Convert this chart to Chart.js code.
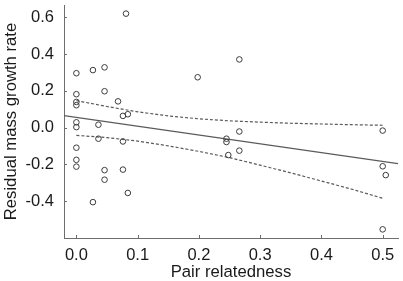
<!DOCTYPE html>
<html>
<head>
<meta charset="utf-8">
<script src="https://cdn.jsdelivr.net/npm/chart.js@4"></script>
<style>
  html, body { margin: 0; padding: 0; background: #fff; }
  #wrap { width: 403px; height: 281px; }
</style>
</head>
<body>
<div id="wrap"><canvas id="chart" width="403" height="281"></canvas></div>
<script>
// pair relatedness (x) vs residual mass growth rate (y)
const relatedness = [0.081, 0, 0.027, 0.046, 0, 0.046, 0, 0, 0.068, 0.076, 0.084, 0, 0, 0.036,
  0.036, 0.076, 0, 0, 0, 0.046, 0.076, 0.046, 0.084, 0.027,
  0.266, 0.198, 0.266, 0.245, 0.245, 0.248, 0.266, 0.5, 0.5, 0.505, 0.5];
const growthRate = [0.620, 0.296, 0.313, 0.328, 0.182, 0.198, 0.140, 0.122, 0.143, 0.064, 0.073, 0.029, 0.003, 0.016,
  -0.060, -0.075, -0.109, -0.175, -0.212, -0.231, -0.228, -0.283, -0.355, -0.405,
  0.371, 0.274, -0.021, -0.060, -0.078, -0.149, -0.125, -0.016, -0.210, -0.258, -0.553];

// fitted line, read at the plot edges
const fitX = [-0.0202, 0.525];
const fitY = [0.065, -0.196];

// confidence band, read along x
const bandX = [0, 0.05, 0.1, 0.15, 0.2, 0.25, 0.3, 0.35, 0.4, 0.45, 0.5];
const bandUpper = [0.147, 0.115, 0.086, 0.064, 0.048, 0.037, 0.030, 0.024, 0.020, 0.016, 0.013];
const bandLower = [-0.042, -0.054, -0.073, -0.099, -0.129, -0.163, -0.204, -0.246, -0.290, -0.335, -0.384];

const xTicks = [0, 0.1, 0.2, 0.3, 0.4, 0.5];
const yTicks = [-0.4, -0.2, 0, 0.2, 0.4, 0.6];

const FONT = "'Liberation Sans', Arial, sans-serif";
const pts = (xs, ys) => xs.map((x, i) => ({ x, y: ys[i] }));

// R style inward tick marks
const innerTicks = {
  id: "innerTicks",
  afterDraw(chart) {
    const { ctx, chartArea: a, scales: { x, y } } = chart;
    ctx.save();
    ctx.strokeStyle = "#6e6e6e";
    ctx.lineWidth = 1;
    ctx.beginPath();
    xTicks.forEach(v => {
      const px = Math.round(x.getPixelForValue(v)) + 0.5;
      ctx.moveTo(px, a.bottom); ctx.lineTo(px, a.bottom - 3);
    });
    yTicks.forEach(v => {
      const py = Math.round(y.getPixelForValue(v)) + 0.5;
      ctx.moveTo(a.left, py); ctx.lineTo(a.left + 3, py);
    });
    ctx.stroke();
    ctx.restore();
  }
};

const lineStyle = { showLine: true, pointRadius: 0, borderColor: "#5a5a5a", borderWidth: 1.2, fill: false };

new Chart(document.getElementById("chart").getContext("2d"), {
  type: "scatter",
  data: {
    datasets: [
      { label: "points", data: pts(relatedness, growthRate), pointStyle: "circle", pointRadius: 2.8,
        borderColor: "#3c3c3c", borderWidth: 1, backgroundColor: "rgba(0,0,0,0)" },
      { label: "fit", data: pts(fitX, fitY), ...lineStyle },
      { label: "upper", data: pts(bandX, bandUpper), ...lineStyle, borderDash: [3, 2] },
      { label: "lower", data: pts(bandX, bandLower), ...lineStyle, borderDash: [3, 2] }
    ]
  },
  options: {
    responsive: false,
    animation: false,
    layout: { padding: { top: 4, right: 3, left: 0, bottom: 0 } },
    plugins: { legend: { display: false }, tooltip: { enabled: false } },
    scales: {
      x: {
        type: "linear", min: -0.0202, max: 0.525,
        afterBuildTicks: (s) => { s.ticks = xTicks.map(v => ({ value: v })); },
        afterFit: (s) => { s.height = 43; s.paddingLeft = 0; s.paddingRight = 0; },
        grid: { display: false, drawTicks: false },
        border: { display: true, color: "#6e6e6e", width: 1 },
        ticks: { padding: 8, color: "#1a1a1a", font: { family: FONT, size: 16.5 },
                 maxRotation: 0, autoSkip: false, callback: (v) => Number(v).toFixed(1) },
        title: { display: true, text: "Pair relatedness", color: "#1a1a1a",
                 font: { family: FONT, size: 16.7 }, padding: { top: 0, bottom: -1 } }
      },
      y: {
        type: "linear", min: -0.6, max: 0.667,
        afterBuildTicks: (s) => { s.ticks = yTicks.map(v => ({ value: v })); },
        afterFit: (s) => { s.width = 64; s.paddingTop = 0; s.paddingBottom = 0; },
        grid: { display: false, drawTicks: false },
        border: { display: true, color: "#6e6e6e", width: 1 },
        ticks: { padding: 10, color: "#1a1a1a", font: { family: FONT, size: 16.5 },
                 autoSkip: false, callback: (v) => Number(v).toFixed(1) },
        title: { display: true, text: "Residual mass growth rate", color: "#1a1a1a",
                 font: { family: FONT, size: 16.7 }, padding: { top: 1, bottom: 0 } }
      }
    }
  },
  plugins: [innerTicks]
});
</script>
</body>
</html>
